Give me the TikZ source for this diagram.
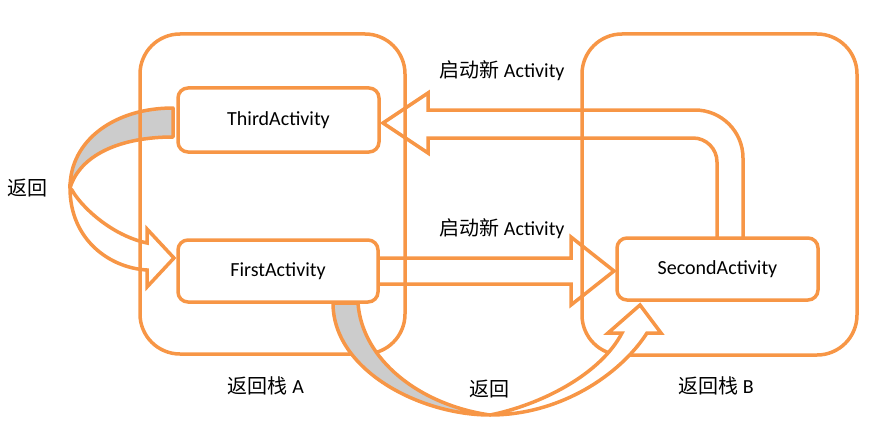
\documentclass[tikz,border=0pt]{standalone}
\usepackage{fontspec}
\setmainfont{Carlito}
\newfontfamily\cjk{Noto Sans CJK SC}
\usetikzlibrary{calc}
\definecolor{acc}{HTML}{F79646}
\definecolor{rib}{HTML}{CCCCCC}
\pgfdeclarelayer{bg}
\pgfdeclarelayer{fg}
\pgfsetlayers{bg,main,fg}
\tikzset{
  stackbox/.style={draw=acc, line width=3.5pt, rounded corners=40pt, inner sep=0pt},
  actbox/.style={draw=acc, line width=3.5pt, rounded corners=10pt, fill=white, inner sep=0pt,
    font=\fontsize{20}{24}\selectfont},
  lbl/.style={font=\fontsize{20}{24}\selectfont, inner sep=0pt},
  barrow/.style={draw=acc, line width=3.5pt, fill=white, line join=miter},
  ribbon/.style={draw=acc, line width=3.5pt, fill=rib, line join=round},
}
\begin{document}
\begin{tikzpicture}[x=1pt,y=-1pt]
\useasboundingbox (0,0) rectangle (876,436);
% stacks
\node[stackbox, minimum width=265pt, minimum height=320pt] (stackA) at (272.5,194) {};
\node[stackbox, minimum width=275pt, minimum height=321pt] (stackB) at (719.5,194.5) {};
% activities
\node[actbox, minimum width=201pt, minimum height=64pt] (third) at (278.5,120) {ThirdActivity};
\node[actbox, minimum width=200pt, minimum height=62pt] (first) at (278,271) {FirstActivity};
\node[actbox, minimum width=201pt, minimum height=62pt] (second) at (717.5,269) {SecondActivity};
% labels
\node[lbl] (lblTop) at (502,71) {{\cjk 启动新} Activity};
\node[lbl] (lblMid) at (502,229) {{\cjk 启动新} Activity};
\node[lbl] (lblBackL) at (27,188) {\cjk 返回};
\node[lbl] (lblBackB) at (489,389) {\cjk 返回};
\node[lbl] (lblStackA) at (266,386) {{\cjk 返回栈} A};
\node[lbl] (lblStackB) at (716,386) {{\cjk 返回栈} B};
% arrows behind the stacks
\begin{pgfonlayer}{bg}
  % Third -> First (back)
  \draw[barrow] (70,188) .. controls (70,240) and (110,268) .. (147,270)
    -- (147,287) -- (174,258) -- (147,229) -- (147,243)
    .. controls (110,235) and (80,205) .. (72,190) -- cycle;
  \draw[ribbon] (173,108) .. controls (115,108) and (70,140) .. (70,188)
    .. controls (80,155) and (120,137) .. (173,137) -- cycle;
  % First -> Second
  \draw[barrow] (first.east |- 0,258) -- (571,258) -- (571,237) -- (614,271)
    -- (571,305) -- (571,284) -- (first.east |- 0,284);
  % Second -> Third
  \draw[barrow] (743,238) -- (743,158) .. controls (743,131.5) and (721.5,110) .. (695,110)
    -- (428,110) -- (428,93) -- (383,123) -- (428,153) -- (428,138) -- (693,138)
    .. controls (706.25,138) and (717,148.75) .. (717,162) -- (717,238);
\end{pgfonlayer}
% arrow in front
\begin{pgfonlayer}{fg}
  \draw[barrow] (490,415) .. controls (560,415) and (620,375) .. (647,333)
    -- (661,333) -- (640,305) -- (608,333) -- (622,333)
    .. controls (600,375) and (540,405) .. (490,415) -- cycle;
  \draw[ribbon] (333,303) .. controls (333,370) and (420,415) .. (490,415)
    .. controls (420,405) and (362,360) .. (358,303) -- cycle;
\end{pgfonlayer}
\end{tikzpicture}
\end{document}
